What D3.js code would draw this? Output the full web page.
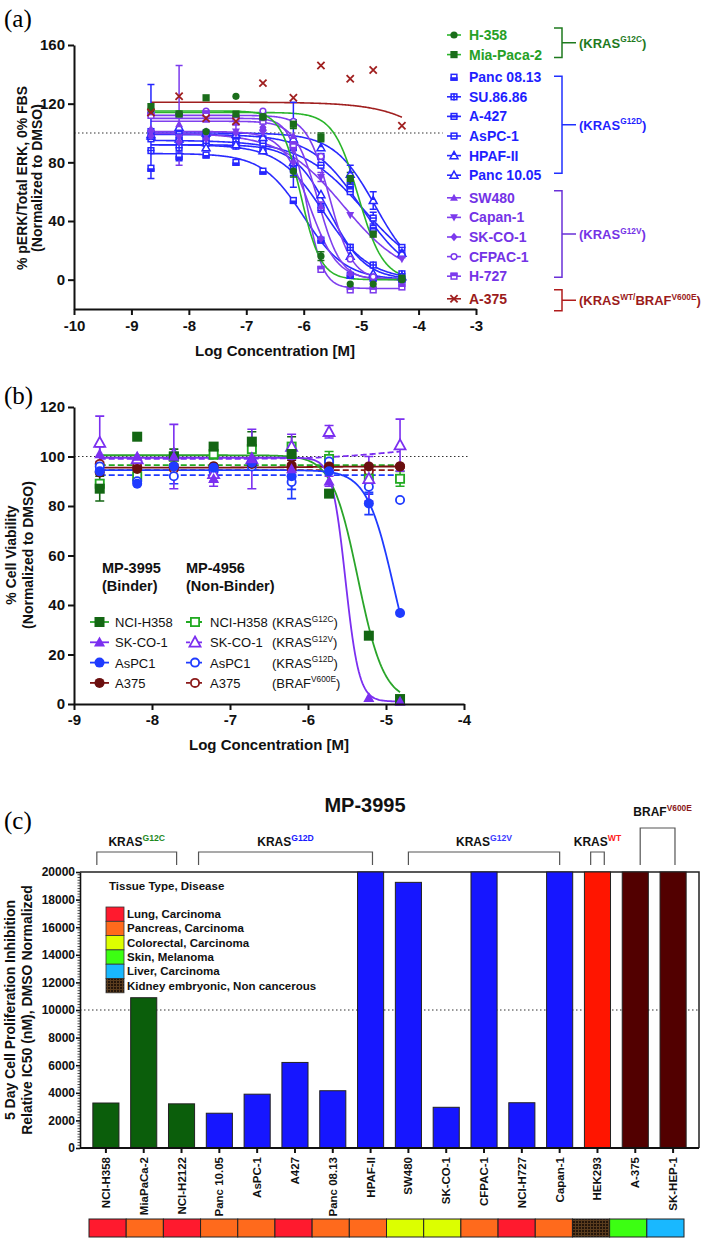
<!DOCTYPE html>
<html><head><meta charset="utf-8">
<script src="https://cdn.jsdelivr.net/npm/d3@7/dist/d3.min.js"></script>
<style>html,body{margin:0;padding:0;background:#fff;}svg{display:block;}</style>
</head><body>
<svg id="fig" width="702" height="1240" xmlns="http://www.w3.org/2000/svg"></svg>
<script>
// ================= DATA: panel (a) pERK =================
const concA = [-8.66,-8.17,-7.70,-7.18,-6.71,-6.18,-5.70,-5.19,-4.79,-4.29];
const namesA = ['H-358','Mia-Paca-2','Panc 08.13','SU.86.86','A-427','AsPC-1','HPAF-II','Panc 10.05','SW480','Capan-1','SK-CO-1','CFPAC-1','H-727','A-375'];
const groupA = ['G12C','G12C','G12D','G12D','G12D','G12D','G12D','G12D','G12V','G12V','G12V','G12V','G12V','WT'];
const markerA = ['circle','square','squareHalfB','squareCross','squareBar','squareLine','triHalf','triOpen','tri','triDown','diamond','circleOpen','squareHalfT','x'];
const valuesA = [
  [116,113,101,125,111,74,16,-3,-3,0],
  [118,113,124,113,111,106,97,69,31,1],
  [76,84,85,80,74,54,27,3,1,0],
  [88,90,93,91,88,75,49,22,10,4],
  [96,99,100,98,96,92,84,63,35,17],
  [101,95,97,94,93,90,78,60,42,22],
  [98,104,100,99,97,96,90,72,54,18],
  [99,96,90,92,88,80,58,16,4,2],
  [103,106,109,107,104,98,50,5,2,1],
  [100,97,99,101,100,88,70,44,30,14],
  [98,94,96,100,104,80,28,4,1,0],
  [114,112,115,111,115,108,84,14,2,0],
  [112,112,113,110,108,92,7,-7,-7,-5],
  [114,125,110,108,134,124,146,137,143,105]
];
const errA = [
  [0,0,0,0,0,4,3,0,0,0],
  [0,0,0,0,0,3,3,4,0,0],
  [0,3,0,0,0,0,0,0,0,0],
  [0,6,0,0,0,4,3,2,0,0],
  [0,0,0,0,0,29,0,3,0,0],
  [32,0,0,0,0,0,0,0,4,0],
  [0,0,0,0,0,0,0,6,6,0],
  [0,0,0,0,0,0,0,0,0,0],
  [0,0,0,0,0,0,3,0,0,0],
  [0,0,0,5,0,0,3,0,0,0],
  [0,0,0,0,0,0,0,0,0,0],
  [0,0,0,0,0,0,0,0,0,0],
  [0,34,0,0,0,0,0,0,0,0],
  [0,0,0,0,0,0,0,0,0,0]
];
// fitted 4PL curves: [top, bottom, logIC50, hill]
const fitA = [
  [115,0,-6.05,2.5],[114,0,-5.05,2],[86,0,-6.0,1.2],[92,0,-5.65,1.1],[99,0,-5.0,1.0],
  [95,0,-4.95,0.8],[100,0,-4.75,1.2],[92,0,-5.55,1.4],[108,0,-5.75,2.2],[100,0,-5.3,0.8],
  [101,0,-5.9,1.8],[112,0,-5.55,2.2],[110,-6,-5.95,3],[121,0,-3.0,0.8]
];
const groupsA = ['G12C','G12D','G12V','WT'];
const groupLabelA = [['(KRAS','G12C',')'],['(KRAS','G12D',')'],['(KRAS','G12V',')'],['(KRAS','WT/','BRAF','V600E',')']];
const xTicksA = [-10,-9,-8,-7,-6,-5,-4,-3];
const yTicksA = [0,40,80,120,160];

// ================= DATA: panel (b) viability =================
const concB = [-8.67,-8.19,-7.72,-7.21,-6.72,-6.21,-5.73,-5.22,-4.82];
const cellsB = ['NCI-H358','SK-CO-1','AsPC1','A375'];
const mutB = [['KRAS','G12C'],['KRAS','G12V'],['KRAS','G12D'],['BRAF','V600E']];
const binderB = [
  [87,108,100,104,106,101,85,27.6,2],
  [101,100,100,91,99,95,90,2.5,1],
  [94,89,96,95.5,97.5,92,94,81,36.8],
  [93.5,95,96,96,97,96.5,96,96,96]
];
const binderErrB = [[5,0,3,0,4,7,0,0,0],[3,0,13,3,12,4,2,0,0],[0,0,0,0,0,9,0,4.5,0],[0,0,0,0,0,2,0,0,0]];
const binderFitB = [[100.5,1,-5.36,2.6],[99.5,1,-5.52,5],[94.5,0,-4.9,2.5],[95.5,96,-6,1]];
const nonBinderB = [
  [89,92,100,101,103,104,99,91,91],
  [105.6,99,101,93,99,104,110,91,104.6],
  [96,90,92,94,96,89.7,98,87.8,82.4],
  [97,96,95,96,97,95,96,94,96]
];
const nonBinderErrB = [[0,0,0,2,0,0,3,2,3],[10.7,0,0,3,0,5,2.5,9,10.5],[0,0,3,0,0,3,2,3,0],[0,0,0,0,0,0,0,0,0]];
const nonBinderFitB = [[96.5,96.5,-6,1],[99,104,-5,1],[92.5,92.5,-6,1],[94.5,94.5,-6,1]];
const xTicksB = [-9,-8,-7,-6,-5,-4];
const yTicksB = [0,20,40,60,80,100,120];

// ================= DATA: panel (c) IC50 bars =================
const catsC = ['NCI-H358','MiaPaCa-2','NCI-H2122','Panc 10.05','AsPC-1','A427','Panc 08.13','HPAF-II','SW480','SK-CO-1','CFPAC-1','NCI-H727','Capan-1','HEK293','A-375','SK-HEP-1'];
const ic50C = [3260,10890,3200,2520,3900,6200,4150,20000,19250,2950,20000,3280,20000,20000,20000,20000];
const mutC = ['G12C','G12C','G12C','G12D','G12D','G12D','G12D','G12D','G12V','G12V','G12V','G12V','G12V','WT','BRAF','BRAF'];
const tissueC = ['Lung','Pancreas','Lung','Pancreas','Pancreas','Lung','Pancreas','Pancreas','Colorectal','Colorectal','Pancreas','Lung','Pancreas','Kidney','Skin','Liver'];
const tissueNames = ['Lung','Pancreas','Colorectal','Skin','Liver','Kidney'];
const tissueLabels = ['Lung, Carcinoma','Pancreas, Carcinoma','Colorectal, Carcinoma','Skin, Melanoma','Liver, Carcinoma','Kidney embryonic, Non cancerous'];
const yTicksC = [0,2000,4000,6000,8000,10000,12000,14000,16000,18000,20000];

// ================= STYLE =================
const SANS = '"Liberation Sans", Arial, Helvetica, sans-serif';
const SERIF = '"Liberation Serif", "Times New Roman", Times, serif';
const colA = {G12C:{mk:'#1b6e1b',ln:'#2bb52b',tx:'#26a026',br:'#1e7a1e'}, G12D:{mk:'#2626ff',ln:'#2a2aff',tx:'#1f1fff',br:'#2030ff'}, G12V:{mk:'#7c3aed',ln:'#7f3fee',tx:'#7433e6',br:'#6a30d8'}, WT:{mk:'#a01f1f',ln:'#a01f1f',tx:'#9b1b1b',br:'#b01c1c'}};
const colB = [{f:'#136613',l:'#2aa52a',o:'#22aa22'},{f:'#7b2ff0',l:'#7b2ff0',o:'#7b2ff0'},{f:'#1f3bff',l:'#1f3bff',o:'#1f3bff'},{f:'#6a0f0f',l:'#7a1212',o:'#8b1a1a'}];
const mkB1 = ['square','tri','circle','circle'];
const mkB2 = ['squareOpen','triOpen','circleOpen','circleOpen'];
const barCol = {G12C:'#0b5e0b',G12D:'#1616ff',G12V:'#1616ff',WT:'#ff1500',BRAF:'#520000'};
const tisCol = {Lung:'#ff1a2e',Pancreas:'#ff6a1c',Colorectal:'#dcff00',Skin:'#3cff12',Liver:'#19b8ff',Kidney:'url(#kidney)'};
const supCol = {G12C:'#1e8a1e',G12D:'#1a1aff',G12V:'#3a3aff',WT:'#ff2020',BRAF:'#8b1a1a'};

const svg = d3.select('#fig');
const defs = svg.append('defs');
const pat = defs.append('pattern').attr('id','kidney').attr('patternUnits','userSpaceOnUse').attr('width',3).attr('height',3);
pat.append('rect').attr('width',3).attr('height',3).attr('fill','#5a3c1e');
pat.append('rect').attr('width',2).attr('height',2).attr('fill','#24150a');

function fourPL(p,x){const [t,b,ic,h]=p;return b+(t-b)/(1+Math.pow(10,(x-ic)*h));}
function fitPts(p,x0,x1){return d3.range(0,241).map(i=>{const x=x0+(x1-x0)*i/240;return [x,fourPL(p,x)];});}

function supText(parent,x,y,parts,size,opts){
  opts=opts||{};
  const t=parent.append('text').attr('x',x).attr('y',y).attr('font-family',SANS).attr('font-size',size)
    .attr('font-weight',opts.weight||'bold').attr('text-anchor',opts.anchor||'start').attr('fill',opts.fill||'#000');
  let up=false;
  parts.forEach(p=>{
    const ts=t.append('tspan').text(p.t);
    if(p.c) ts.attr('fill',p.c);
    if(p.sup){ts.attr('font-size',size*(opts.supScale||0.64)); if(!up){ts.attr('dy',-size*0.42);up=true;}}
    else if(up){ts.attr('dy',size*0.42);up=false;}
  });
  return t;
}

function drawMarker(g,type,cx,cy,s,col,lw){
  const G=g.append('g').attr('transform',`translate(${cx},${cy})`);
  const sw=lw||1.5;
  const openRect=()=>G.append('rect').attr('x',-s+sw/2).attr('y',-s+sw/2).attr('width',2*s-sw).attr('height',2*s-sw).attr('fill','#fff').attr('stroke',col).attr('stroke-width',sw);
  const triPath=(k)=>`M0,${-1.15*s*k} L${1.1*s},${0.85*s*k} L${-1.1*s},${0.85*s*k} Z`;
  switch(type){
    case 'circle': G.append('circle').attr('r',s).attr('fill',col); break;
    case 'circleOpen': G.append('circle').attr('r',s-sw/2).attr('fill','#fff').attr('stroke',col).attr('stroke-width',sw); break;
    case 'square': G.append('rect').attr('x',-s).attr('y',-s).attr('width',2*s).attr('height',2*s).attr('fill',col); break;
    case 'squareOpen': openRect(); break;
    case 'squareHalfB': openRect(); G.append('rect').attr('x',-s).attr('y',0).attr('width',2*s).attr('height',s).attr('fill',col); break;
    case 'squareHalfT': openRect(); G.append('rect').attr('x',-s).attr('y',-s).attr('width',2*s).attr('height',s).attr('fill',col); break;
    case 'squareCross': openRect(); G.append('path').attr('d',`M${-s},0H${s}M0,${-s}V${s}`).attr('stroke',col).attr('stroke-width',sw); break;
    case 'squareBar': openRect(); G.append('rect').attr('x',-s).attr('y',-s*0.35).attr('width',2*s).attr('height',s*0.7).attr('fill',col); break;
    case 'squareLine': openRect(); G.append('path').attr('d',`M${-s},0H${s}`).attr('stroke',col).attr('stroke-width',sw); break;
    case 'tri': G.append('path').attr('d',triPath(1)).attr('fill',col); break;
    case 'triOpen': G.append('path').attr('d',triPath(1)).attr('fill','#fff').attr('stroke',col).attr('stroke-width',sw).attr('stroke-linejoin','miter'); break;
    case 'triHalf': G.append('path').attr('d',triPath(1)).attr('fill','#fff').attr('stroke',col).attr('stroke-width',sw);
      G.append('path').attr('d',`M0,${-1.15*s} L${0.55*s},${-0.15*s} L${-0.55*s},${-0.15*s} Z`).attr('fill',col); break;
    case 'triDown': G.append('path').attr('d',triPath(-1)).attr('fill',col); break;
    case 'diamond': G.append('path').attr('d',`M0,${-1.2*s}L${s},0L0,${1.2*s}L${-s},0Z`).attr('fill',col); break;
    case 'x': G.append('path').attr('d',`M${-s},${-s}L${s},${s}M${s},${-s}L${-s},${s}`).attr('stroke',col).attr('stroke-width',1.8); break;
  }
}
function styleAxis(g,fs,sw){
  g.attr('font-family',null).attr('font-size',null);
  g.selectAll('path.domain').attr('stroke','#111').attr('stroke-width',sw);
  g.selectAll('.tick line').attr('stroke','#111').attr('stroke-width',sw);
  g.selectAll('.tick text').attr('font-family',SANS).attr('font-size',fs).attr('font-weight','bold').attr('fill','#111');
}
function errBar(g,x,y0,y1,cap,col,sw){
  g.append('path').attr('d',`M${x},${y0}V${y1}M${x-cap},${y0}H${x+cap}M${x-cap},${y1}H${x+cap}`).attr('stroke',col).attr('stroke-width',sw).attr('fill','none');
}
function panelLabel(txt,x,y){svg.append('text').attr('x',x).attr('y',y).attr('font-family',SERIF).attr('font-size',25).text(txt);}
function yTitle(lines,xs,cy,fs){lines.forEach((l,i)=>svg.append('text').attr('transform',`translate(${xs[i]},${cy}) rotate(-90)`).attr('text-anchor','middle').attr('font-family',SANS).attr('font-weight','bold').attr('font-size',fs).attr('fill','#111').text(l));}

// ================= PANEL (a) =================
panelLabel('(a)',4,27);
const xA=d3.scaleLinear().domain([-10,-3]).range([74,476]);
const yA=d3.scaleLinear().domain([-20,160]).range([309,45]);
const gA=svg.append('g');
gA.append('line').attr('x1',xA(-10)).attr('x2',xA(-3.58)).attr('y1',yA(100)).attr('y2',yA(100)).attr('stroke','#333').attr('stroke-width',1.2).attr('stroke-dasharray','1.5,2.5');
const lineA=d3.line().x(d=>xA(d[0])).y(d=>yA(d[1]));
const drawOrderA=[2,3,4,5,6,7,8,9,10,11,12,0,1,13];
drawOrderA.forEach(i=>{
  gA.append('path').attr('d',lineA(fitPts(fitA[i],concA[0],concA[concA.length-1]))).attr('fill','none').attr('stroke',colA[groupA[i]].ln).attr('stroke-width',1.6);
});
drawOrderA.forEach(i=>{
  valuesA[i].forEach((v,j)=>{ if(errA[i][j]>0) errBar(gA,xA(concA[j]),yA(v-errA[i][j]),yA(v+errA[i][j]),3.5,colA[groupA[i]].mk,1.5); });
});
drawOrderA.forEach(i=>{
  valuesA[i].forEach((v,j)=>drawMarker(gA,markerA[i],xA(concA[j]),yA(v),3.6,colA[groupA[i]].mk,1.5));
});
const axYA=gA.append('g').attr('transform',`translate(${xA(-10)},0)`).call(d3.axisLeft(yA).tickValues(yTicksA).tickSize(6).tickSizeOuter(0).tickPadding(3).tickFormat(d=>String(d)));
styleAxis(axYA,15,2);
const axXA=gA.append('g').attr('transform',`translate(0,${yA(-20)})`).call(d3.axisBottom(xA).tickValues(xTicksA).tickSize(6).tickSizeOuter(0).tickPadding(5).tickFormat(d=>String(d)));
styleAxis(axXA,15,2);
svg.append('text').attr('x',(xA(-10)+xA(-3))/2).attr('y',356).attr('text-anchor','middle').attr('font-family',SANS).attr('font-weight','bold').attr('font-size',15).attr('fill','#111').text('Log Concentration [M]');
yTitle(['% pERK/Total ERK, 0% FBS','(Normalized to DMSO)'],[27,42],178,14);

// legend (a)
const legA=svg.append('g');
const rowYA=namesA.map((n,i)=>35+i*19.6+groupsA.indexOf(groupA[i])*3);
namesA.forEach((n,i)=>{
  const c=colA[groupA[i]];
  if(i!==2) legA.append('line').attr('x1',447).attr('x2',461).attr('y1',rowYA[i]).attr('y2',rowYA[i]).attr('stroke',c.ln).attr('stroke-width',1.6);
  drawMarker(legA,markerA[i],454,rowYA[i],3.6,c.mk,1.5);
  legA.append('text').attr('x',469).attr('y',rowYA[i]+5).attr('font-family',SANS).attr('font-weight','bold').attr('font-size',14).attr('fill',c.tx).text(n);
});
const brA=[{top:-7,bot:3},{top:-1,bot:-2},{top:-7,bot:1},{top:-9,bot:12}];
groupsA.forEach((g,k)=>{
  const idx=groupA.map((d,i)=>d===g?i:-1).filter(i=>i>=0);
  const y0=rowYA[idx[0]]+brA[k].top, y1=rowYA[idx[idx.length-1]]+brA[k].bot, ym=(y0+y1)/2;
  const c=colA[g].br;
  legA.append('path').attr('d',`M554,${y0}H562V${y1}H554M562,${ym}H576`).attr('fill','none').attr('stroke',c).attr('stroke-width',1.5);
  const L=groupLabelA[k];
  const parts=L.length===3?[{t:L[0]},{t:L[1],sup:true},{t:L[2]}]:[{t:L[0]},{t:L[1],sup:true},{t:L[2]},{t:L[3],sup:true},{t:L[4]}];
  supText(legA,579,ym+5,parts,13,{fill:colA[g].tx==='#26a026'?'#1e7a1e':colA[g].tx});
});

// ================= PANEL (b) =================
panelLabel('(b)',4,404);
const xB=d3.scaleLinear().domain([-9,-4]).range([74,464]);
const yB=d3.scaleLinear().domain([0,120]).range([704,407]);
const gB=svg.append('g');
gB.append('line').attr('x1',xB(-9)).attr('x2',xB(-3.95)).attr('y1',yB(100)).attr('y2',yB(100)).attr('stroke','#333').attr('stroke-width',1.2).attr('stroke-dasharray','1.5,2.5');
const lineB=d3.line().x(d=>xB(d[0])).y(d=>yB(d[1]));
const x0B=concB[0], x1B=concB[concB.length-1];
[3,0,2,1].forEach(i=>{
  gB.append('path').attr('d',lineB(fitPts(nonBinderFitB[i],x0B,x1B))).attr('fill','none').attr('stroke',colB[i].o).attr('stroke-width',1.8).attr('stroke-dasharray','6,3');
});
[3,0,2,1].forEach(i=>{
  gB.append('path').attr('d',lineB(fitPts(binderFitB[i],x0B,x1B))).attr('fill','none').attr('stroke',colB[i].l).attr('stroke-width',1.8);
});
[3,0,2,1].forEach(i=>{
  nonBinderB[i].forEach((v,j)=>{if(nonBinderErrB[i][j]>0) errBar(gB,xB(concB[j]),yB(v-nonBinderErrB[i][j]),yB(v+nonBinderErrB[i][j]),4.5,colB[i].o,1.6);});
  binderB[i].forEach((v,j)=>{if(binderErrB[i][j]>0) errBar(gB,xB(concB[j]),yB(v-binderErrB[i][j]),yB(v+binderErrB[i][j]),4.5,colB[i].f,1.6);});
});
[3,0,2,1].forEach(i=>{
  nonBinderB[i].forEach((v,j)=>drawMarker(gB,mkB2[i],xB(concB[j]),yB(v),5,colB[i].o,1.8));
});
[3,0,2,1].forEach(i=>{
  binderB[i].forEach((v,j)=>drawMarker(gB,mkB1[i],xB(concB[j]),yB(v),5,colB[i].f,1.8));
});
const axYB=gB.append('g').attr('transform',`translate(${xB(-9)},0)`).call(d3.axisLeft(yB).tickValues(yTicksB).tickSize(6).tickSizeOuter(0).tickPadding(3).tickFormat(d=>String(d)));
styleAxis(axYB,15,2);
const axXB=gB.append('g').attr('transform',`translate(0,${yB(0)})`).call(d3.axisBottom(xB).tickValues(xTicksB).tickSize(6).tickSizeOuter(0).tickPadding(4).tickFormat(d=>String(d)));
styleAxis(axXB,15,2);
svg.append('text').attr('x',(xB(-9)+xB(-4))/2).attr('y',750).attr('text-anchor','middle').attr('font-family',SANS).attr('font-weight','bold').attr('font-size',15).attr('fill','#111').text('Log Concentration [M]');
yTitle(['% Cell Viability','(Normalized to DMSO)'],[16,33],555,14);

// legend (b)
const legB=svg.append('g');
[['MP-3995','(Binder)',102],['MP-4956','(Non-Binder)',186]].forEach(h=>{
  legB.append('text').attr('x',h[2]).attr('y',573).attr('font-family',SANS).attr('font-weight','bold').attr('font-size',14.5).attr('fill','#111').text(h[0]);
  legB.append('text').attr('x',h[2]).attr('y',591).attr('font-family',SANS).attr('font-weight','bold').attr('font-size',14.5).attr('fill','#111').text(h[1]);
});
cellsB.forEach((n,i)=>{
  const y=622+i*20.3;
  legB.append('line').attr('x1',90).attr('x2',109).attr('y1',y).attr('y2',y).attr('stroke',colB[i].l).attr('stroke-width',1.8);
  drawMarker(legB,mkB1[i],99.5,y,5,colB[i].f,1.8);
  legB.append('text').attr('x',115).attr('y',y+5).attr('font-family',SANS).attr('font-size',13).attr('fill','#111').text(n);
  legB.append('line').attr('x1',186).attr('x2',204).attr('y1',y).attr('y2',y).attr('stroke',colB[i].o).attr('stroke-width',1.8).attr('stroke-dasharray','4,2');
  drawMarker(legB,mkB2[i],195,y,5,colB[i].o,1.8);
  legB.append('text').attr('x',210).attr('y',y+5).attr('font-family',SANS).attr('font-size',13).attr('fill','#111').text(n);
  supText(legB,272,y+5,[{t:'('+mutB[i][0]},{t:mutB[i][1],sup:true},{t:')'}],13,{weight:'normal',fill:'#111'});
});

// ================= PANEL (c) =================
panelLabel('(c)',4,829);
svg.append('text').attr('x',365).attr('y',812).attr('text-anchor','middle').attr('font-family',SANS).attr('font-weight','bold').attr('font-size',20).attr('fill','#111').text('MP-3995');
const xC=d3.scaleBand().domain(catsC).range([87,692]).paddingInner(0.31).paddingOuter(0.155);
const yC=d3.scaleLinear().domain([0,20000]).range([1148,872]);
const gC=svg.append('g');
const xL=80, xR=699;
// frame top/right
gC.append('path').attr('d',`M${xL},${yC(20000)}H${xR}V${yC(0)}`).attr('fill','none').attr('stroke','#222').attr('stroke-width',1.5);
gC.append('line').attr('x1',xL).attr('x2',xR).attr('y1',yC(10000)).attr('y2',yC(10000)).attr('stroke','#333').attr('stroke-width',1.2).attr('stroke-dasharray','1.5,2.5');
gC.selectAll('rect.bar').data(catsC).enter().append('rect').attr('class','bar')
  .attr('x',d=>xC(d)).attr('width',xC.bandwidth())
  .attr('y',(d,i)=>yC(ic50C[i])).attr('height',(d,i)=>yC(0)-yC(ic50C[i]))
  .attr('fill',(d,i)=>barCol[mutC[i]]).attr('stroke','#222').attr('stroke-width',1);
// minor ticks
gC.append('g').selectAll('line').data(d3.range(0,20001,200).filter(v=>v%2000!==0)).enter().append('line')
  .attr('x1',xL-2.5).attr('x2',xL).attr('y1',d=>yC(d)).attr('y2',d=>yC(d)).attr('stroke','#222').attr('stroke-width',0.8);
const axYC=gC.append('g').attr('transform',`translate(${xL},0)`).call(d3.axisLeft(yC).tickValues(yTicksC).tickSize(4).tickSizeOuter(0).tickPadding(1).tickFormat(d=>String(d)));
styleAxis(axYC,12,1.6);
const axXC=gC.append('g').attr('transform',`translate(0,${yC(0)})`).call(d3.axisBottom(xC).tickSize(5).tickSizeOuter(0).tickFormat(''));
styleAxis(axXC,12,2);
axXC.select('path.domain').attr('d',`M${xL},0H${xR}`);
catsC.forEach(c=>{
  gC.append('text').attr('transform',`translate(${xC(c)+xC.bandwidth()/2+4},1157) rotate(-90)`).attr('text-anchor','end')
    .attr('font-family',SANS).attr('font-weight','bold').attr('font-size',11.5).attr('fill','#111').text(c);
});
yTitle(['5 Day Cell  Proliferation Inhibition','Relative IC50 (nM), DMSO Normalized'],[15,32],1010,14);

// tissue colour strip
const xS=d3.scaleBand().domain(catsC).range([89,684]).padding(0);
gC.selectAll('rect.tis').data(catsC).enter().append('rect').attr('class','tis')
  .attr('x',d=>xS(d)).attr('width',xS.bandwidth()).attr('y',1219).attr('height',18)
  .attr('fill',(d,i)=>tisCol[tissueC[i]]).attr('stroke','#222').attr('stroke-width',1);

// tissue legend
const legC=svg.append('g');
legC.append('text').attr('x',109).attr('y',890).attr('font-family',SANS).attr('font-weight','bold').attr('font-size',11.5).attr('fill','#111').text('Tissue Type, Disease');
tissueNames.forEach((t,i)=>{
  const y=907+i*14.3;
  legC.append('rect').attr('x',106).attr('y',y).attr('width',18).attr('height',14.3).attr('fill',tisCol[t]).attr('stroke','#333').attr('stroke-width',0.8);
  legC.append('text').attr('x',127).attr('y',y+11).attr('font-family',SANS).attr('font-weight','bold').attr('font-size',11.5).attr('fill','#111').text(tissueLabels[i]);
});

// mutation brackets
const step=xC.step(), cx=c=>xC(c)+xC.bandwidth()/2;
const bracketsC=[
  {m:'G12C',a:0,ao:-0.24,b:2,bo:-0.13,top:852,ly:846},
  {m:'G12D',a:3,ao:-0.55,b:7,bo:0.05,top:852,ly:846},
  {m:'G12V',a:8,ao:0,b:12,bo:0,top:852,ly:846},
  {m:'WT',a:13,ao:-0.18,b:13,bo:0.18,top:852,ly:846},
  {m:'BRAF',a:14,ao:0.13,b:15,bo:0.05,top:828,ly:816}
];
bracketsC.forEach(br=>{
  const x0=cx(catsC[br.a])+br.ao*step, x1=cx(catsC[br.b])+br.bo*step;
  gC.append('path').attr('d',`M${x0},865V${br.top}H${x1}V865`).attr('fill','none').attr('stroke','#555').attr('stroke-width',1.2);
  const mid=(x0+x1)/2;
  if(br.m==='BRAF') supText(gC,mid+5,br.ly,[{t:'BRAF'},{t:'V600E',sup:true,c:supCol.BRAF}],12,{anchor:'middle',fill:'#111',supScale:0.7});
  else supText(gC,mid,br.ly,[{t:'KRAS'},{t:br.m,sup:true,c:supCol[br.m]}],12,{anchor:'middle',fill:'#111',supScale:0.72});
});
</script>
</body></html>
